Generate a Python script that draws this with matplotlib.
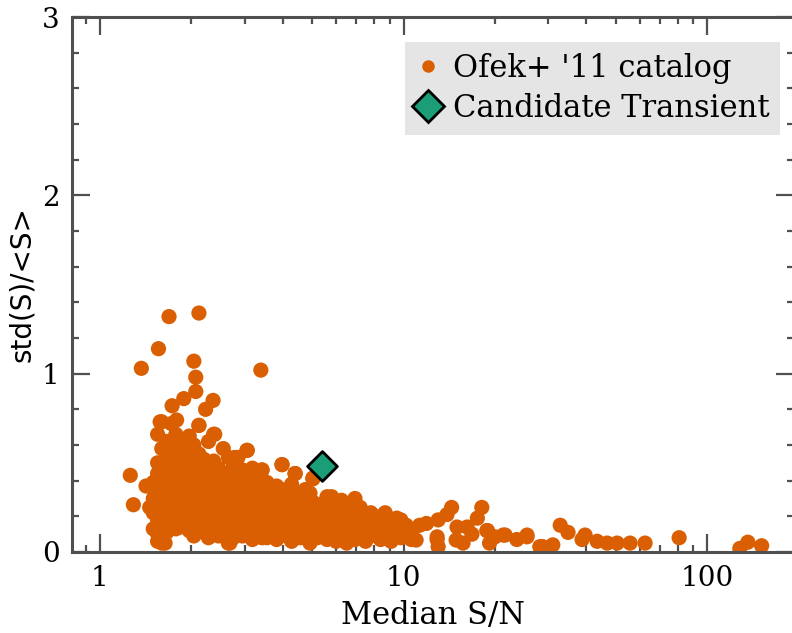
import matplotlib
matplotlib.use("Agg")
import matplotlib.pyplot as plt
from matplotlib.lines import Line2D
from matplotlib.ticker import FixedLocator, MultipleLocator, NullFormatter

plt.rcParams['font.family'] = ['DejaVu Serif']

# Ofek+ '11 catalog sources: median S/N and fractional variability std(S)/<S>
# (column by column)
sn = [
    2.12, 1.69, 1.56, 1.37, 2.04, 2.07, 2.07, 1.89, 1.73, 2.36, 2.23, 3.39,
    1.58, 1.79, 2.12, 2.39, 3.05, 2.78, 3.42, 3.98, 4.39, 5.03, 1.26, 1.29,
    1.46, 1.42, 1.58, 1.64, 2.68,
    1.50, 1.50, 1.50, 1.50,
    1.55, 1.55, 1.55, 1.55, 1.55, 1.55, 1.55, 1.55,
    1.60, 1.60, 1.60, 1.60, 1.60, 1.60, 1.60, 1.60,
    1.66, 1.66, 1.66, 1.66, 1.66, 1.66, 1.66,
    1.72, 1.72, 1.72, 1.72, 1.72, 1.72, 1.72,
    1.78, 1.78, 1.78, 1.78, 1.78, 1.78, 1.78,
    1.84, 1.84, 1.84, 1.84, 1.84, 1.84, 1.84,
    1.90, 1.90, 1.90, 1.90, 1.90, 1.90,
    1.97, 1.97, 1.97, 1.97, 1.97, 1.97, 1.97,
    2.04, 2.04, 2.04, 2.04, 2.04, 2.04, 2.04,
    2.12, 2.12, 2.12, 2.12, 2.12, 2.12, 2.12,
    2.20, 2.20, 2.20, 2.20, 2.20, 2.20,
    2.28, 2.28, 2.28, 2.28, 2.28, 2.28, 2.28,
    2.37, 2.37, 2.37, 2.37, 2.37, 2.37, 2.37,
    2.46, 2.46, 2.46, 2.46, 2.46, 2.46,
    2.55, 2.55, 2.55, 2.55, 2.55, 2.55,
    2.65, 2.65, 2.65, 2.65, 2.65, 2.65,
    2.75, 2.75, 2.75, 2.75, 2.75, 2.75,
    2.85, 2.85, 2.85, 2.85, 2.85, 2.85,
    2.95, 2.95, 2.95, 2.95, 2.95, 2.95,
    3.06, 3.06, 3.06, 3.06, 3.06, 3.06,
    3.18, 3.18, 3.18, 3.18, 3.18, 3.18,
    3.30, 3.30, 3.30, 3.30, 3.30,
    3.42, 3.42, 3.42, 3.42, 3.42, 3.42,
    3.55, 3.55, 3.55, 3.55, 3.55,
    3.68, 3.68, 3.68, 3.68,
    3.82, 3.82, 3.82, 3.82, 3.82,
    3.98, 3.98, 3.98, 3.98, 3.98,
    4.12, 4.12, 4.12, 4.12,
    4.28, 4.28, 4.28, 4.28, 4.28,
    4.40, 4.40, 4.40, 4.40,
    4.58, 4.58, 4.58, 4.58,
    4.75, 4.75, 4.75, 4.75,
    4.92, 4.92, 4.92, 4.92,
    5.03, 5.03, 5.03, 5.03,
    5.20, 5.20, 5.20,
    5.40, 5.40, 5.40,
    5.60, 5.60, 5.60, 5.60,
    5.80, 5.80, 5.80, 5.80,
    6.00, 6.00, 6.00, 6.00,
    6.25, 6.25, 6.25, 6.25,
    6.50, 6.50, 6.50,
    6.70, 6.70, 6.70,
    6.92, 6.92, 6.92, 6.92,
    7.20, 7.20, 7.20,
    7.50, 7.50, 7.50,
    7.80, 7.80, 7.80,
    8.10, 8.10,
    8.40, 8.40, 8.40,
    8.70, 8.70, 8.70,
    9.10, 9.10, 9.10,
    9.50, 9.50,
    9.80, 9.80, 9.80,
    10.2, 10.2,
    10.6, 10.6,
    10.5, 11.9, 13.0, 14.4, 13.9, 12.9, 15.0, 16.2, 18.1, 17.5, 18.8, 21.3,
    25.5, 23.6, 28.7, 15.7, 19.2, 20.0, 21.6, 25.5, 28.1, 31.0, 32.8, 34.8,
    39.6, 38.7, 43.4, 46.8, 50.5, 55.7, 62.4, 80.8, 128, 136, 151,
    11.0, 12.9, 13.0, 14.9, 11.3, 18.9, 16.8,
]
frac = [
    1.34, 1.32, 1.14, 1.03, 1.07, 0.98, 0.90, 0.86, 0.82, 0.85, 0.80, 1.02,
    0.73, 0.74, 0.71, 0.66, 0.57, 0.53, 0.46, 0.49, 0.44, 0.415, 0.43, 0.265,
    0.25, 0.37, 0.11, 0.05, 0.05,
    0.39, 0.30, 0.22, 0.13,
    0.66, 0.50, 0.44, 0.34, 0.26, 0.18, 0.10, 0.06,
    0.73, 0.58, 0.47, 0.38, 0.31, 0.21, 0.14, 0.05,
    0.62, 0.53, 0.42, 0.35, 0.27, 0.19, 0.11,
    0.72, 0.60, 0.49, 0.40, 0.30, 0.23, 0.16,
    0.66, 0.55, 0.45, 0.37, 0.28, 0.20, 0.13,
    0.61, 0.51, 0.41, 0.33, 0.25, 0.17, 0.14,
    0.57, 0.47, 0.38, 0.30, 0.22, 0.15,
    0.65, 0.53, 0.43, 0.35, 0.27, 0.19, 0.12,
    0.60, 0.50, 0.40, 0.32, 0.24, 0.16, 0.09,
    0.71, 0.55, 0.45, 0.37, 0.29, 0.21, 0.14,
    0.52, 0.42, 0.34, 0.26, 0.18, 0.11,
    0.62, 0.48, 0.38, 0.30, 0.23, 0.15, 0.08,
    0.66, 0.51, 0.43, 0.35, 0.27, 0.19, 0.12,
    0.47, 0.39, 0.31, 0.23, 0.16, 0.09,
    0.58, 0.44, 0.36, 0.28, 0.20, 0.13,
    0.53, 0.41, 0.33, 0.25, 0.17, 0.05,
    0.48, 0.38, 0.30, 0.22, 0.14, 0.08,
    0.53, 0.43, 0.35, 0.27, 0.19, 0.11,
    0.46, 0.39, 0.31, 0.23, 0.15, 0.09,
    0.57, 0.42, 0.34, 0.26, 0.18, 0.12,
    0.47, 0.37, 0.29, 0.21, 0.14, 0.07,
    0.40, 0.32, 0.24, 0.17, 0.10,
    0.46, 0.36, 0.28, 0.20, 0.13, 0.08,
    0.39, 0.31, 0.23, 0.16, 0.08,
    0.34, 0.26, 0.19, 0.12,
    0.37, 0.29, 0.21, 0.14, 0.07,
    0.49, 0.35, 0.25, 0.17, 0.10,
    0.31, 0.22, 0.15, 0.09,
    0.38, 0.27, 0.19, 0.12, 0.06,
    0.44, 0.33, 0.23, 0.15,
    0.29, 0.20, 0.13, 0.08,
    0.35, 0.25, 0.17, 0.10,
    0.33, 0.22, 0.14, 0.05,
    0.41, 0.28, 0.18, 0.11,
    0.24, 0.15, 0.08,
    0.27, 0.19, 0.12,
    0.31, 0.21, 0.14, 0.07,
    0.31, 0.23, 0.16, 0.10,
    0.25, 0.18, 0.12, 0.06,
    0.29, 0.20, 0.13, 0.08,
    0.22, 0.15, 0.05,
    0.25, 0.17, 0.11,
    0.30, 0.19, 0.12, 0.07,
    0.25, 0.15, 0.09,
    0.20, 0.12, 0.06,
    0.22, 0.14, 0.09,
    0.17, 0.11,
    0.20, 0.13, 0.07,
    0.22, 0.15, 0.10,
    0.17, 0.11, 0.06,
    0.19, 0.13,
    0.18, 0.12, 0.08,
    0.15, 0.09,
    0.12, 0.07,
    0.12, 0.16, 0.18, 0.25, 0.21, 0.07, 0.14, 0.14, 0.25, 0.19, 0.12, 0.095,
    0.095, 0.07, 0.03, 0.05, 0.05, 0.085, 0.095, 0.085, 0.03, 0.04, 0.15, 0.11,
    0.095, 0.07, 0.06, 0.05, 0.05, 0.05, 0.05, 0.08, 0.02, 0.055, 0.035,
    0.067, 0.085, 0.03, 0.067, 0.15, 0.12, 0.10,
]

# candidate transient
cand_sn = [5.39]
cand_frac = [0.48]

orange = '#d95f02'
green = '#1b9e77'
spine_col = '#505050'

fig = plt.figure(figsize=(7.92, 6.33), dpi=100)
ax = fig.add_axes([72 / 792, 81 / 633, 722 / 792, 535 / 633])

ax.scatter(sn, frac, s=120, color=orange, edgecolors='none', zorder=2)
ax.scatter(cand_sn, cand_frac, s=230, marker='D', color=green,
           edgecolors='black', linewidths=2, zorder=3)

ax.set_xscale('log')
ax.set_xlim(0.81, 193)
ax.set_ylim(0, 3)

ax.xaxis.set_major_locator(FixedLocator([1, 10, 100]))
ax.set_xticklabels(['1', '10', '100'])
ax.xaxis.set_minor_locator(FixedLocator(
    [0.9] + [m * 10 ** e for e in range(0, 3) for m in range(2, 10)]))
ax.xaxis.set_minor_formatter(NullFormatter())
ax.yaxis.set_major_locator(MultipleLocator(1))
ax.yaxis.set_minor_locator(MultipleLocator(0.2))

ax.tick_params(which='both', direction='in', top=True, right=True,
               color=spine_col, labelsize=20, pad=9)
ax.tick_params(which='major', length=13, width=1.6)
ax.tick_params(which='minor', length=5, width=1.6)
for sp in ax.spines.values():
    sp.set_color(spine_col)
    sp.set_linewidth(2.2)

ax.set_xlabel('Median S/N', fontsize=22, labelpad=6)
ax.set_ylabel('std(S)/<S>', fontsize=20, family='DejaVu Sans', labelpad=4)

handles = [
    Line2D([], [], ls='none', marker='o', ms=9, color=orange, mec='none'),
    Line2D([], [], ls='none', marker='D', ms=16, mfc=green, mec='black', mew=2),
]
leg = ax.legend(handles, ["Ofek+ '11 catalog", 'Candidate Transient'],
                loc='upper right', fontsize=22, frameon=True, fancybox=False,
                handlelength=0.8, handletextpad=0.4, borderpad=0.35,
                labelspacing=0.3, borderaxespad=0,
                bbox_to_anchor=(708 / 722, 510 / 535))
leg.get_frame().set_facecolor('#e5e5e5')
leg.get_frame().set_edgecolor('none')
leg.get_frame().set_alpha(1)

fig.savefig('out.png', dpi=100)
